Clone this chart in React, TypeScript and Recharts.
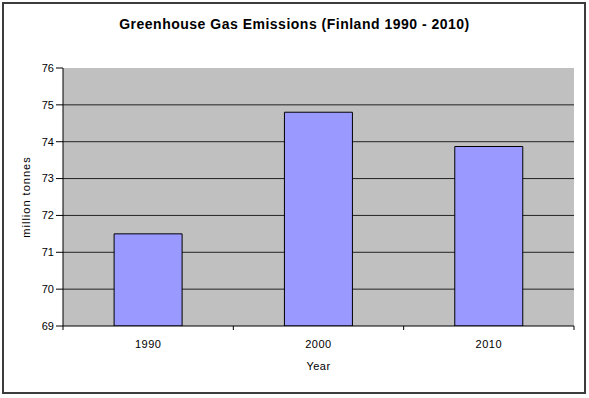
import React from 'react';
import { BarChart, Bar, XAxis, YAxis, CartesianGrid } from 'recharts';

const years = ['1990', '2000', '2010'];
const emissions = [71.5, 74.8, 73.87];
const yTicks = [69, 70, 71, 72, 73, 74, 75, 76];
const gridValues = [70, 71, 72, 73, 74, 75];

const data = years.map((year, i) => ({ year, value: emissions[i] }));

const FONT = '"Liberation Sans", Arial, sans-serif';

const XTick = (props: any) => {
  const { x, y, payload, index } = props;
  const half = payload.offset || 0;
  const axisY = y - 14;
  return (
    <g>
      <line x1={x - half} x2={x - half} y1={axisY} y2={axisY + 4} stroke="#000" />
      {index === years.length - 1 && (
        <line x1={x + half} x2={x + half} y1={axisY} y2={axisY + 4} stroke="#000" />
      )}
      <text x={x} y={y} dy="0.71em" textAnchor="middle" fill="#000" fontSize={11} fontFamily={FONT} letterSpacing={0.5}>
        {payload.value}
      </text>
    </g>
  );
};

export default function App() {
  return (
    <div style={{ position: 'absolute', left: 0, top: 0, width: 589, height: 398, background: '#fff' }}>
      <div
        style={{
          position: 'absolute',
          left: 2,
          top: 2,
          width: 584,
          height: 392,
          border: '2px solid #3c3c3c',
          boxSizing: 'border-box',
        }}
      />
      <div
        style={{
          position: 'absolute',
          left: 0,
          top: 16,
          width: 589,
          textAlign: 'center',
          fontFamily: FONT,
          fontWeight: 'bold',
          fontSize: 14,
          lineHeight: '16px',
          letterSpacing: 0.5,
          color: '#000',
        }}
      >
        Greenhouse Gas Emissions (Finland 1990 - 2010)
      </div>
      <div style={{ position: 'absolute', left: 0, top: 0 }}>
        <BarChart
          width={589}
          height={398}
          data={data}
          margin={{ top: 68, right: 15, bottom: 0, left: 0 }}
          barCategoryGap="30%"
        >
          <CartesianGrid vertical={false} fill="#C0C0C0" stroke="#222" horizontalValues={gridValues} />
          <XAxis
            dataKey="year"
            height={72}
            tickLine={false}
            axisLine={{ stroke: '#000' }}
            tick={<XTick />}
            tickMargin={14}
            tickSize={0}
            label={(p: any) => {
              const vb = p.viewBox;
              return (
                <text x={vb.x + vb.width / 2} y={370} textAnchor="middle" fill="#000" fontSize={11} fontFamily={FONT} letterSpacing={0.5}>
                  Year
                </text>
              );
            }}
          />
          <YAxis
            domain={[69, 76]}
            ticks={yTicks}
            width={63}
            tickSize={7}
            tickMargin={2}
            axisLine={{ stroke: '#000' }}
            tickLine={{ stroke: '#000' }}
            tick={{ fill: '#000', fontSize: 11, fontFamily: FONT }}
            allowDataOverflow
            label={(p: any) => {
              const vb = p.viewBox;
              const cy = vb.y + vb.height / 2;
              return (
                <text x={30} y={cy} transform={`rotate(-90, 30, ${cy})`} textAnchor="middle" fill="#000" fontSize={11} fontFamily={FONT} letterSpacing={1}>
                  million tonnes
                </text>
              );
            }}
          />
          <Bar dataKey="value" fill="#9999FF" stroke="#000" strokeWidth={1} isAnimationActive={false} />
        </BarChart>
      </div>
    </div>
  );
}
